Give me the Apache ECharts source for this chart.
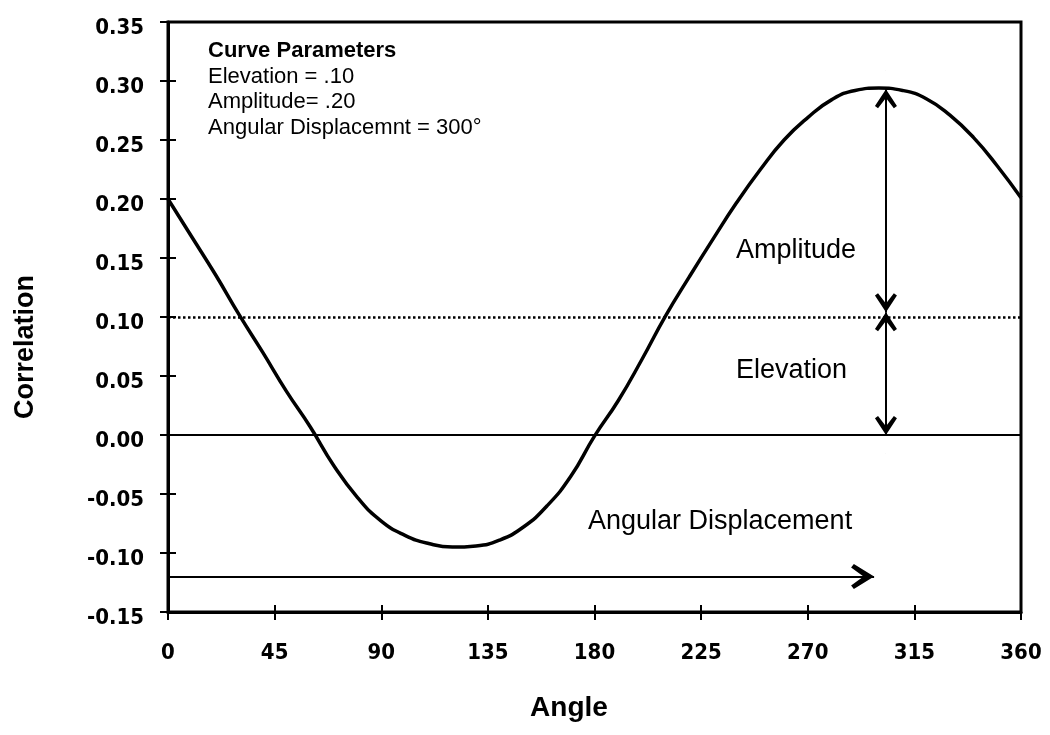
<!DOCTYPE html>
<html>
<head>
<meta charset="utf-8">
<script src="https://cdn.jsdelivr.net/npm/echarts@6/dist/echarts.min.js"></script>
<style>
html,body{margin:0;padding:0;background:#fff;}
#chart{width:1050px;height:735px;}
</style>
</head>
<body>
<div id="chart"></div>
<script>
// ---- data ----
const angles = [0, 10, 20, 30, 40, 50, 60, 70, 80, 90, 100, 110, 120, 130, 140, 150, 160, 170, 180, 190, 200, 210, 220, 230, 240, 250, 260, 270, 280, 290, 300, 310, 320, 330, 340, 350, 360];
const correlation = [0.200, 0.168, 0.136, 0.102, 0.070, 0.037, 0.007, -0.026, -0.053, -0.073, -0.085, -0.092, -0.095, -0.094, -0.089, -0.078, -0.060, -0.035, -0.001, 0.029, 0.064, 0.101, 0.134, 0.166, 0.197, 0.225, 0.250, 0.269, 0.284, 0.292, 0.294, 0.292, 0.285, 0.271, 0.252, 0.228, 0.201];

const xAxisRange = [0, 360, 45];        // min, max, interval
const yAxisRange = [-0.15, 0.35, 0.05];  // min, max, interval

const elevationLevel = 0.104;   // dotted line
const peakLevel = 0.293;        // top of amplitude arrow
const arrowAngle = 303;         // x of vertical arrows
const displacementY = -0.12;    // y of horizontal arrow
const displacementEnd = 298;    // x of horizontal arrow tip

const paramTitle = 'Curve Parameters';
const paramLines = ['Elevation = .10', 'Amplitude= .20', 'Angular Displacemnt = 300\u00B0'];
const annotationLabels = ['Amplitude', 'Elevation', 'Angular Displacement'];
const axisNames = ['Angle', 'Correlation'];

// chevron arrow head, tip at the centre of its box
const chevron = 'path://M50,0 L50.4,1 L49.6,1 Z M50,100 L100,188 L86,200 L50,146 L14,200 L0,188 Z';

const chart = echarts.init(document.getElementById('chart'));
const points = angles.map((a, i) => [a, correlation[i]]);

const textFont = "'Liberation Sans', Arial, sans-serif";

const option = {
  animation: false,
  backgroundColor: '#fff',
  grid: { left: 168, right: 29, top: 22, bottom: 123, show: true, borderColor: '#000', borderWidth: 3, backgroundColor: 'transparent' },
  xAxis: [
    {
      type: 'value', min: xAxisRange[0], max: xAxisRange[1], interval: xAxisRange[2],
      axisLine: { show: true, onZero: false, lineStyle: { color: '#000', width: 3 } },
      axisTick: { show: true, length: 8, lineStyle: { color: '#000', width: 2 } },
      axisLabel: { color: '#000', fontSize: 22, fontWeight: 'bold', fontFamily: "'Liberation Sans Narrow', 'DejaVu Sans Condensed', sans-serif", margin: 30 },
      splitLine: { show: false }
    },
    {
      type: 'value', min: xAxisRange[0], max: xAxisRange[1], interval: xAxisRange[2], position: 'bottom',
      axisLine: { show: false, onZero: false },
      axisTick: { show: true, inside: true, length: 7, lineStyle: { color: '#000', width: 2 } },
      axisLabel: { show: false }, splitLine: { show: false }
    }
  ],
  yAxis: [
    {
      type: 'value', min: yAxisRange[0], max: yAxisRange[1], interval: yAxisRange[2],
      axisLine: { show: true, onZero: false, lineStyle: { color: '#000', width: 3 } },
      axisTick: { show: true, length: 8, lineStyle: { color: '#000', width: 2 } },
      axisLabel: { color: '#000', fontSize: 22, fontWeight: 'bold', fontFamily: "'DejaVu Sans Condensed', 'DejaVu Sans', sans-serif", margin: 24, verticalAlign: 'top', lineHeight: 12, formatter: v => v.toFixed(2) },
      splitLine: { show: false }
    },
    {
      type: 'value', min: yAxisRange[0], max: yAxisRange[1], interval: yAxisRange[2], position: 'left',
      axisLine: { show: false, onZero: false },
      axisTick: { show: true, inside: true, length: 8, lineStyle: { color: '#000', width: 2 } },
      axisLabel: { show: false }, splitLine: { show: false }
    }
  ],
  series: [
    {
      type: 'line', data: points, smooth: true, showSymbol: false, symbol: 'none',
      lineStyle: { color: '#000', width: 3.5 }, z: 5, silent: true,
      markLine: {
        silent: true, animation: false, symbol: 'none',
        label: { show: false },
        emphasis: { disabled: true },
        data: [
          { yAxis: 0, lineStyle: { color: '#000', width: 2, type: 'solid' } },
          { yAxis: elevationLevel, lineStyle: { color: '#000', width: 2.5, type: [2.5, 2.5] } },
          [
            { coord: [arrowAngle, elevationLevel], symbol: chevron, symbolSize: [22, 38], lineStyle: { color: '#000', width: 2, type: 'solid' } },
            { coord: [arrowAngle, peakLevel], symbol: chevron, symbolSize: [22, 38] }
          ],
          [
            { coord: [arrowAngle, 0], symbol: chevron, symbolSize: [22, 38], lineStyle: { color: '#000', width: 2, type: 'solid' } },
            { coord: [arrowAngle, elevationLevel], symbol: chevron, symbolSize: [22, 38] }
          ],
          [
            { coord: [xAxisRange[0], displacementY], symbol: 'none', lineStyle: { color: '#000', width: 2, type: 'solid' } },
            { coord: [displacementEnd, displacementY], symbol: chevron, symbolSize: [25, 46] }
          ]
        ],
        itemStyle: { color: '#000' }
      }
    }
  ],
  graphic: [
    { type: 'text', x: 208, y: 51, style: { text: paramTitle, fill: '#000', font: "bold 22px " + textFont, verticalAlign: 'middle' } },
    { type: 'text', x: 208, y: 76.5, style: { text: paramLines[0], fill: '#000', font: "22px " + textFont, verticalAlign: 'middle' } },
    { type: 'text', x: 208, y: 102, style: { text: paramLines[1], fill: '#000', font: "22px " + textFont, verticalAlign: 'middle' } },
    { type: 'text', x: 208, y: 127.5, style: { text: paramLines[2], fill: '#000', font: "22px " + textFont, verticalAlign: 'middle' } },
    { type: 'text', x: 736, y: 251, style: { text: annotationLabels[0], fill: '#000', font: "27px " + textFont, verticalAlign: 'middle' } },
    { type: 'text', x: 736, y: 371, style: { text: annotationLabels[1], fill: '#000', font: "27px " + textFont, verticalAlign: 'middle' } },
    { type: 'text', x: 588, y: 522, style: { text: annotationLabels[2], fill: '#000', font: "27px " + textFont, verticalAlign: 'middle' } },
    { type: 'text', x: 569, y: 708, style: { text: axisNames[0], fill: '#000', font: "bold 28px " + textFont, align: 'center', verticalAlign: 'middle' } },
    { type: 'text', x: 26, y: 347, rotation: Math.PI / 2, style: { text: axisNames[1], fill: '#000', font: "bold 27px " + textFont, align: 'center', verticalAlign: 'middle' } }
  ]
};
chart.setOption(option);
</script>
</body>
</html>
